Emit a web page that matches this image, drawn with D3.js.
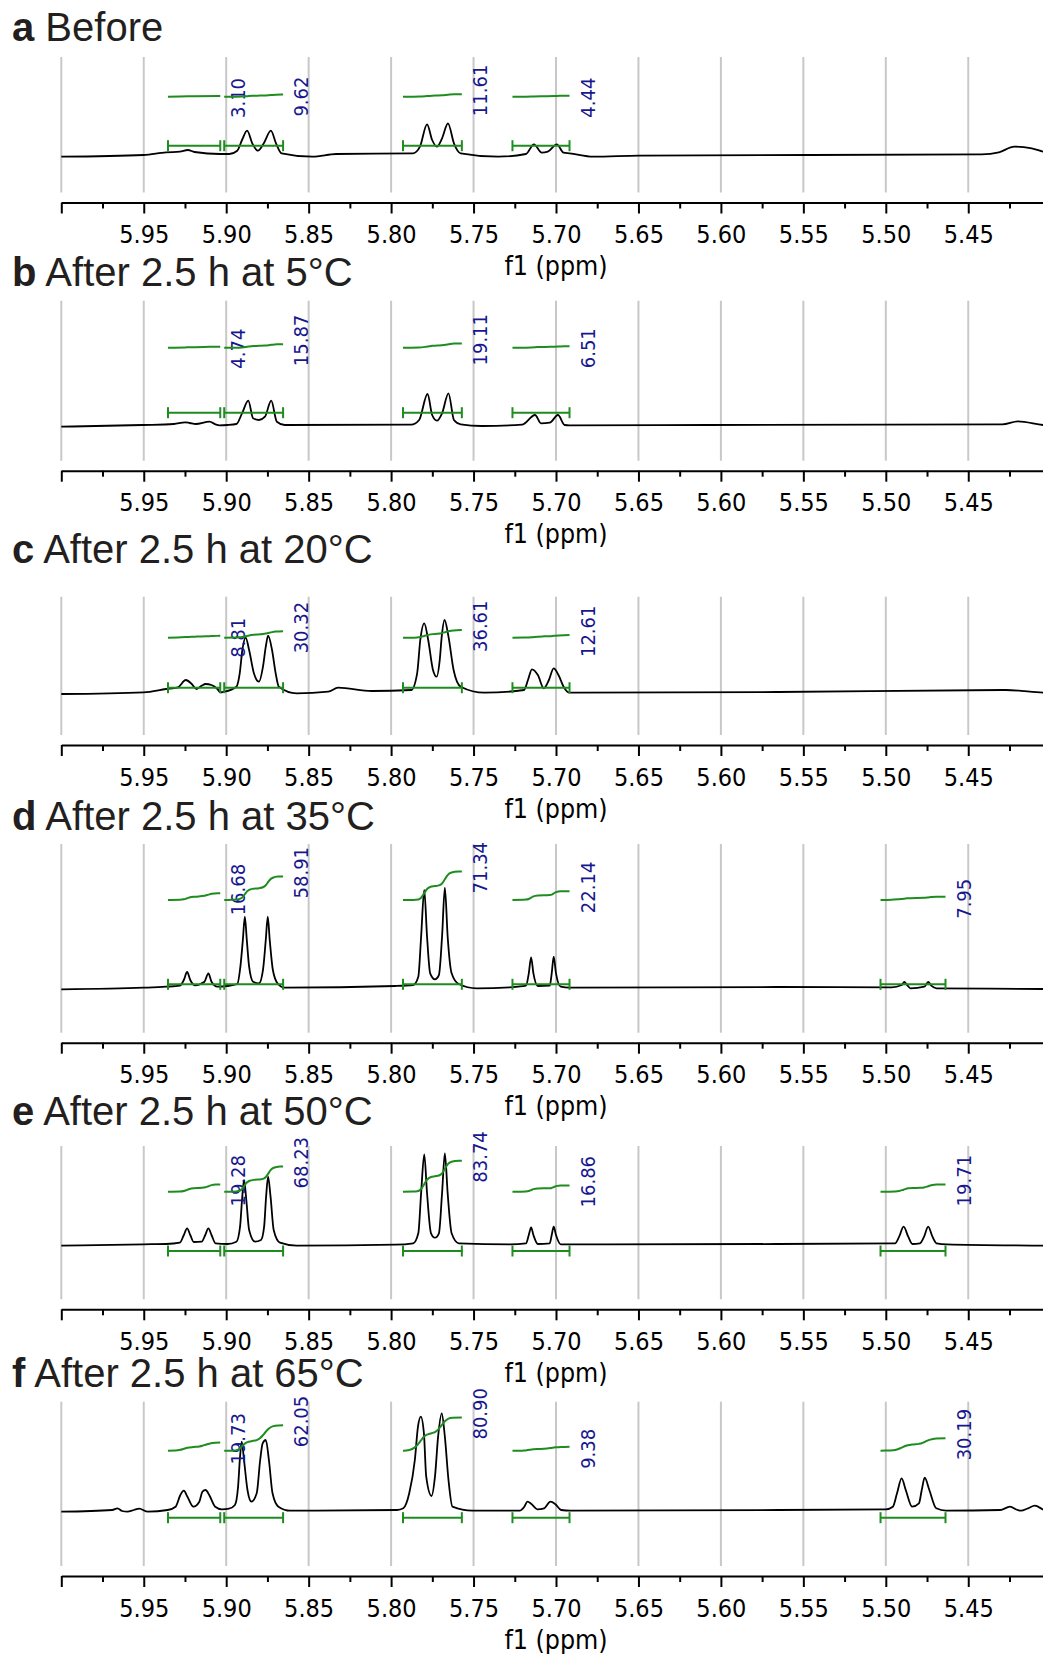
<!DOCTYPE html>
<html>
<head>
<meta charset="utf-8">
<script src="https://cdn.jsdelivr.net/npm/d3@7"></script>
<style>
  body { margin: 0; background: #fff; }
  svg { display: block; }
</style>
</head>
<body>
<div id="chart"></div>
<script>
// panel letters and titles
const panelLetters = ["a", "b", "c", "d", "e", "f"];
const panelTitles = ["Before", "After 2.5 h at 5°C", "After 2.5 h at 20°C",
                     "After 2.5 h at 35°C", "After 2.5 h at 50°C", "After 2.5 h at 65°C"];

// axis ticks (ppm)
const tickValues = [6.00, 5.95, 5.90, 5.85, 5.80, 5.75, 5.70, 5.65, 5.60, 5.55, 5.50, 5.45];
const minorTickValues = [5.975, 5.925, 5.875, 5.825, 5.775, 5.725, 5.675, 5.625, 5.575, 5.525, 5.475, 5.425];

// integration ranges [from, to] in ppm
const integRanges = [[5.9353, 5.9036], [5.9012, 5.8655], [5.7928, 5.7571], [5.7264, 5.6918], [5.5032, 5.4638]];

// integral values
const integralsA = [3.10, 9.62, 11.61, 4.44];
const integralsB = [4.74, 15.87, 19.11, 6.51];
const integralsC = [8.81, 30.32, 36.61, 12.61];
const integralsD = [16.68, 58.91, 71.34, 22.14, 7.95];
const integralsE = [19.28, 68.23, 83.74, 16.86, 19.71];
const integralsF = [19.73, 62.05, 80.90, 9.38, 30.19];

// spectra [ppm, intensity]
const spectrumA = [
  [6.000,-1.7],[5.9501,0],[5.9365,2.7],[5.9281,3.3],[5.9233,5],[5.9192,3],[5.9036,1],[5.8981,1],
  [5.8933,4.3],[5.8904,15],[5.8873,24.3],[5.8842,11.7],[5.8808,4.3],[5.8772,11.7],[5.8729,24.3],
  [5.8698,11.7],[5.8664,1.7],[5.8477,-1.7],[5.8333,1],[5.7866,1.7],[5.7825,8.3],[5.7782,30.7],
  [5.7751,15],[5.7722,8.3],[5.7691,16.7],[5.7655,31.7],[5.7619,11.7],[5.7578,1.7],[5.7350,-1.7],
  [5.7182,1],[5.7134,10.7],[5.7086,2.3],[5.7050,3.3],[5.6995,10.7],[5.6954,2.3],[5.6918,1.7],
  [5.6775,-1.7],[5.6498,-0.7],[5.4419,0.7],[5.4314,2.7],[5.4220,8.3],[5.4115,6.7],[5.4045,3.3],[5.3999,1.7]
];
const spectrumB = [
  [6.000,-1.7],[5.9508,0],[5.9317,1],[5.9249,2.7],[5.9221,2],[5.9185,1],[5.9101,3.3],[5.9065,0.7],
  [5.9041,-0.3],[5.8993,0],[5.8938,1],[5.8904,11.7],[5.8866,24.3],[5.8837,6.7],[5.8801,5],[5.8765,8.3],
  [5.8727,24.3],[5.8693,3.3],[5.8645,0],[5.7878,0.3],[5.7830,5],[5.7779,31],[5.7751,10],[5.7722,4.3],
  [5.7691,11.7],[5.7652,31.7],[5.7619,5],[5.7578,0.7],[5.7451,-1],[5.7206,0.3],[5.7127,10],[5.7091,1.7],
  [5.7038,2.3],[5.6988,10],[5.6947,0],[5.6918,-0.3],[5.6078,0],[5.4293,0.7],[5.4199,3.7],[5.4045,0],[5.3999,-0.7]
];
const spectrumC = [
  [6.000,-2],[5.9501,-0.3],[5.9365,3],[5.9293,4.7],[5.9245,12],[5.9209,8],[5.9180,3],[5.9149,6.3],
  [5.9125,8],[5.9089,7],[5.9053,3],[5.9036,-0.3],[5.9012,0.3],[5.8938,5.3],[5.8918,18.7],[5.8902,42],
  [5.8882,54.3],[5.8861,42],[5.8832,18.7],[5.8801,10.3],[5.8777,25.3],[5.8760,45.3],[5.8746,56.3],
  [5.8722,42],[5.8700,18.7],[5.8681,5.3],[5.8573,-1.3],[5.8381,0.3],[5.8321,4.3],[5.8118,1],[5.7878,2],
  [5.7842,18.7],[5.7823,52],[5.7799,68.7],[5.7775,52],[5.7746,22],[5.7724,15.3],[5.7705,32],[5.7693,55.3],
  [5.7676,72],[5.7652,55.3],[5.7621,22],[5.7578,5.3],[5.7434,-0.7],[5.7194,2],[5.7170,12],[5.7146,22.7],
  [5.7110,17],[5.7074,3.7],[5.7043,12],[5.7014,23.7],[5.6985,17],[5.6954,5.3],[5.6918,-0.7],
  [5.5658,0],[5.4272,2],[5.4045,-0.7],[5.3999,-1]
];
const spectrumD = [
  [6.000,-1.8],[5.9501,-0.2],[5.9365,0.8],[5.9281,1.8],[5.9257,7.5],[5.9237,15.5],[5.9218,7.5],[5.9189,2.2],
  [5.9132,5.8],[5.9108,14.2],[5.9089,5.8],[5.9053,0.8],[5.8993,1.5],[5.8933,3.5],[5.8914,20.8],[5.8899,47.5],
  [5.8887,70.8],[5.8875,47.5],[5.8861,20.8],[5.8837,5.8],[5.8801,4.2],[5.8777,17.5],[5.8760,47.5],
  [5.8748,70.8],[5.8736,47.5],[5.8717,17.5],[5.8686,3.5],[5.8645,-0.2],[5.7974,1.5],[5.7866,2.5],
  [5.7835,10.8],[5.7818,50.8],[5.7799,97.5],[5.7782,50.8],[5.7763,14.2],[5.7734,8.2],[5.7710,12.5],
  [5.7691,50.8],[5.7674,99.8],[5.7657,50.8],[5.7633,14.2],[5.7590,3.5],[5.7482,-0.8],[5.7278,0.2],
  [5.7182,1.8],[5.7165,14.2],[5.7151,30.2],[5.7137,14.2],[5.7110,1.5],[5.7038,1.8],[5.7026,14.2],
  [5.7014,30.8],[5.7000,14.2],[5.6971,0.8],[5.6918,-0.2],[5.5658,0.5],[5.4965,0.2],[5.4903,2.5],
  [5.4888,5.5],[5.4871,2.5],[5.4850,-0.8],[5.4766,0.8],[5.4743,5.5],[5.4724,1.8],[5.4692,-0.8],
  [5.4045,-1.5],[5.3999,-1.7]
];
const spectrumE = [
  [6.000,-1.2],[5.9501,0.2],[5.9365,0.5],[5.9281,1.8],[5.9257,9.5],[5.9237,16.2],[5.9218,9.5],[5.9197,2.5],
  [5.9149,2.8],[5.9127,9.5],[5.9108,16.2],[5.9089,9.5],[5.9065,1.2],[5.8993,0.5],[5.8938,2.8],[5.8916,17.8],
  [5.8904,44.5],[5.8892,64.5],[5.8878,44.5],[5.8861,14.5],[5.8825,2.8],[5.8789,4.5],[5.8770,17.8],
  [5.8758,47.8],[5.8746,67.8],[5.8731,47.8],[5.8712,14.5],[5.8674,1.8],[5.8573,-1.2],[5.7974,-0.2],
  [5.7866,1.2],[5.7835,11.2],[5.7818,51.2],[5.7799,90.2],[5.7782,51.2],[5.7758,11.2],[5.7734,6.8],
  [5.7710,11.2],[5.7691,51.2],[5.7674,91.2],[5.7657,51.2],[5.7633,11.2],[5.7590,1.2],[5.7278,0.2],
  [5.7182,1.2],[5.7165,9.5],[5.7151,17.2],[5.7137,9.5],[5.7110,0.5],[5.7038,1.2],[5.7026,9.5],
  [5.7014,17.8],[5.7000,9.5],[5.6971,0.2],[5.6918,0.2],[5.5658,0.5],[5.4944,1.2],[5.4919,7.8],
  [5.4892,17.8],[5.4864,7.8],[5.4839,0.5],[5.4793,1.2],[5.4768,7.8],[5.4743,17.8],[5.4717,7.8],
  [5.4692,1.2],[5.4629,0.2],[5.4045,-1.2],[5.3999,-1.3]
];
const spectrumF = [
  [6.000,-1.2],[5.9691,0.5],[5.9659,2.2],[5.9631,-0.5],[5.9600,-1.2],[5.9559,0.5],[5.9528,1.8],[5.9475,-1.2],
  [5.9355,0.5],[5.9307,3.8],[5.9278,15.5],[5.9257,19.8],[5.9235,13.8],[5.9199,3.8],[5.9163,8.8],
  [5.9144,18.8],[5.9125,20.5],[5.9103,15.5],[5.9067,3.8],[5.9026,1.2],[5.8983,1.8],[5.8947,5.5],
  [5.8928,23.8],[5.8916,53.8],[5.8906,68.8],[5.8892,50.5],[5.8871,20.5],[5.8847,8.8],[5.8815,17.2],
  [5.8794,50.5],[5.8779,67.2],[5.8760,70.5],[5.8741,50.5],[5.8719,17.2],[5.8683,3.8],[5.8612,-0.2],
  [5.7964,0.5],[5.7926,2.2],[5.7890,17.2],[5.7856,50.5],[5.7837,83.8],[5.7820,93.8],[5.7801,77.2],
  [5.7787,33.8],[5.7755,14.5],[5.7734,33.8],[5.7715,73.8],[5.7693,97.2],[5.7674,73.8],[5.7652,30.5],
  [5.7628,3.8],[5.7508,-0.2],[5.7221,-0.2],[5.7192,3.8],[5.7173,8.8],[5.7149,6.5],[5.7113,1.2],
  [5.7072,2.2],[5.7034,8.8],[5.7005,6.5],[5.6969,0.5],[5.6910,-0.2],[5.5650,0.5],[5.4999,1.2],
  [5.4957,3.8],[5.4932,17.2],[5.4904,32.2],[5.4879,20.5],[5.4841,3.8],[5.4799,7.2],[5.4782,20.5],
  [5.4764,32.8],[5.4736,20.5],[5.4694,2.2],[5.4635,-0.2],[5.4306,0.5],[5.4247,3.8],[5.4201,0.5],
  [5.4180,-0.2],[5.4138,2.2],[5.4096,4.8],[5.4037,0.5],[5.3999,0]
];

const spectra = [spectrumA, spectrumB, spectrumC, spectrumD, spectrumE, spectrumF];
const integrals = [integralsA, integralsB, integralsC, integralsD, integralsE, integralsF];

// vertical layout of each panel (pixels)
const layout = [
  {title: 41,   top: 57,    axis: 202.5,  base: 155,    integ: 96.7,   bracket: 145.7,  k: 0.22},
  {title: 286,  top: 300.7, axis: 470.7,  base: 425,    integ: 347.7,  bracket: 412.7,  k: 0.22},
  {title: 563,  top: 596.7, axis: 745,    base: 692,    integ: 637.7,  bracket: 687.7,  k: 0.21},
  {title: 830,  top: 844,   axis: 1042.7, base: 987.5,  integ: 900,    bracket: 984.3,  k: 0.40},
  {title: 1125, top: 1146,  axis: 1309.3, base: 1244.5, integ: 1191.7, bracket: 1251,   k: 0.37},
  {title: 1387, top: 1401.7,axis: 1576,   base: 1510.5, integ: 1450.7, bracket: 1517.7, k: 0.41}
];

const width = 1043, height = 1654;
const tickFont = '"DejaVu Sans Condensed", "DejaVu Sans", sans-serif';
const green = "#1e8c1e", blue = "#17178f";

const svg = d3.select("#chart").append("svg")
    .attr("width", width)
    .attr("height", height);
svg.append("rect").attr("width", width).attr("height", height).attr("fill", "#fff");

const x = d3.scaleLinear().domain([6.00, 5.40]).range([61.3, 1050.7]);

// linear lookup of the spectrum at a ppm value (used for integral end points)
function valueAt(spec, ppm) {
  for (let k = 0; k < spec.length - 1; k++) {
    const a = spec[k], b = spec[k + 1];
    if (ppm <= a[0] && ppm >= b[0]) {
      const t = (a[0] - ppm) / (a[0] - b[0]);
      return a[1] + t * (b[1] - a[1]);
    }
  }
  return 0;
}

// running integral of the spectrum over one range, normalised 0..1
function runningIntegral(spec, from, to) {
  const pts = [[from, valueAt(spec, from)]]
    .concat(spec.filter(d => d[0] < from && d[0] > to))
    .concat([[to, valueAt(spec, to)]]);
  const m = d3.min(pts, d => d[1]);
  let cum = 0;
  const out = [[pts[0][0], 0]];
  for (let k = 1; k < pts.length; k++) {
    cum += (pts[k - 1][0] - pts[k][0]) * ((pts[k - 1][1] - m) + (pts[k][1] - m)) / 2;
    out.push([pts[k][0], cum]);
  }
  return out.map(d => [d[0], cum > 0 ? d[1] / cum : 0]);
}

spectra.forEach((spec, i) => {
  const L = layout[i];
  const g = svg.append("g");
  const y = d3.scaleLinear().domain([0, 100]).range([L.base, L.base - 100]);

  // title
  const t = g.append("text")
      .attr("x", 12).attr("y", L.title)
      .attr("font-family", '"Liberation Sans", Arial, sans-serif')
      .attr("font-size", 40)
      .attr("fill", "#231f20")
      .style("white-space", "pre");
  t.append("tspan").attr("font-weight", "bold").text(panelLetters[i]);
  t.append("tspan").text(" " + panelTitles[i]);

  // grid lines
  g.append("g").selectAll("line")
    .data(tickValues)
    .join("line")
      .attr("x1", d => x(d)).attr("x2", d => x(d))
      .attr("y1", L.top).attr("y2", L.axis - 10)
      .attr("stroke", "#c8c8c8")
      .attr("stroke-width", 2);

  // axis
  const axis = d3.axisBottom(x)
      .tickValues(tickValues)
      .tickSize(11)
      .tickSizeOuter(0)
      .tickPadding(12)
      .tickFormat(d => d === 6.00 ? "" : d.toFixed(2));
  const ag = g.append("g")
      .attr("transform", `translate(0,${L.axis})`)
      .call(axis)
      .attr("font-family", tickFont)
      .attr("font-size", 25);
  ag.select(".domain").attr("stroke", "#000").attr("stroke-width", 2);
  ag.selectAll(".tick line").attr("stroke", "#000").attr("stroke-width", 2);
  ag.selectAll(".tick text").attr("fill", "#000");

  const mg = g.append("g")
      .attr("transform", `translate(0,${L.axis})`)
      .call(d3.axisBottom(x).tickValues(minorTickValues).tickSize(6).tickFormat(""));
  mg.select(".domain").remove();
  mg.selectAll(".tick line").attr("stroke", "#000").attr("stroke-width", 2);

  g.append("text")
      .attr("x", x(5.70))
      .attr("y", L.axis + 72.5)
      .attr("text-anchor", "middle")
      .attr("font-family", tickFont)
      .attr("font-size", 26.5)
      .attr("fill", "#000")
      .text("f1 (ppm)");

  // spectrum
  const line = d3.line()
      .x(d => x(d[0]))
      .y(d => y(d[1]))
      .curve(d3.curveMonotoneX);
  g.append("path")
      .datum(spec)
      .attr("d", line)
      .attr("fill", "none")
      .attr("stroke", "#000")
      .attr("stroke-width", 1.8)
      .attr("stroke-linejoin", "round");

  // integrals
  integrals[i].forEach((val, r) => {
    const [from, to] = integRanges[r];
    const rise = val * L.k;

    // bracket
    const bg = g.append("g").attr("stroke", green).attr("stroke-width", 2);
    bg.append("line").attr("x1", x(from)).attr("x2", x(to)).attr("y1", L.bracket).attr("y2", L.bracket);
    [from, to].forEach(p => {
      bg.append("line").attr("x1", x(p)).attr("x2", x(p))
        .attr("y1", L.bracket - 5.5).attr("y2", L.bracket + 5.5);
    });

    // integral curve
    const run = runningIntegral(spec, from, to);
    g.append("path")
        .datum(run)
        .attr("d", d3.line()
            .x(d => x(d[0]))
            .y(d => L.integ - d[1] * rise)
            .curve(d3.curveMonotoneX))
        .attr("fill", "none")
        .attr("stroke", green)
        .attr("stroke-width", 2);

    // value label
    g.append("text")
        .attr("transform", `translate(${x(to) + 18},${L.integ - rise + 22}) rotate(-90)`)
        .attr("dy", "0.36em")
        .attr("font-family", tickFont)
        .attr("font-size", 20)
        .attr("fill", blue)
        .text(val.toFixed(2));
  });
});
</script>
</body>
</html>
